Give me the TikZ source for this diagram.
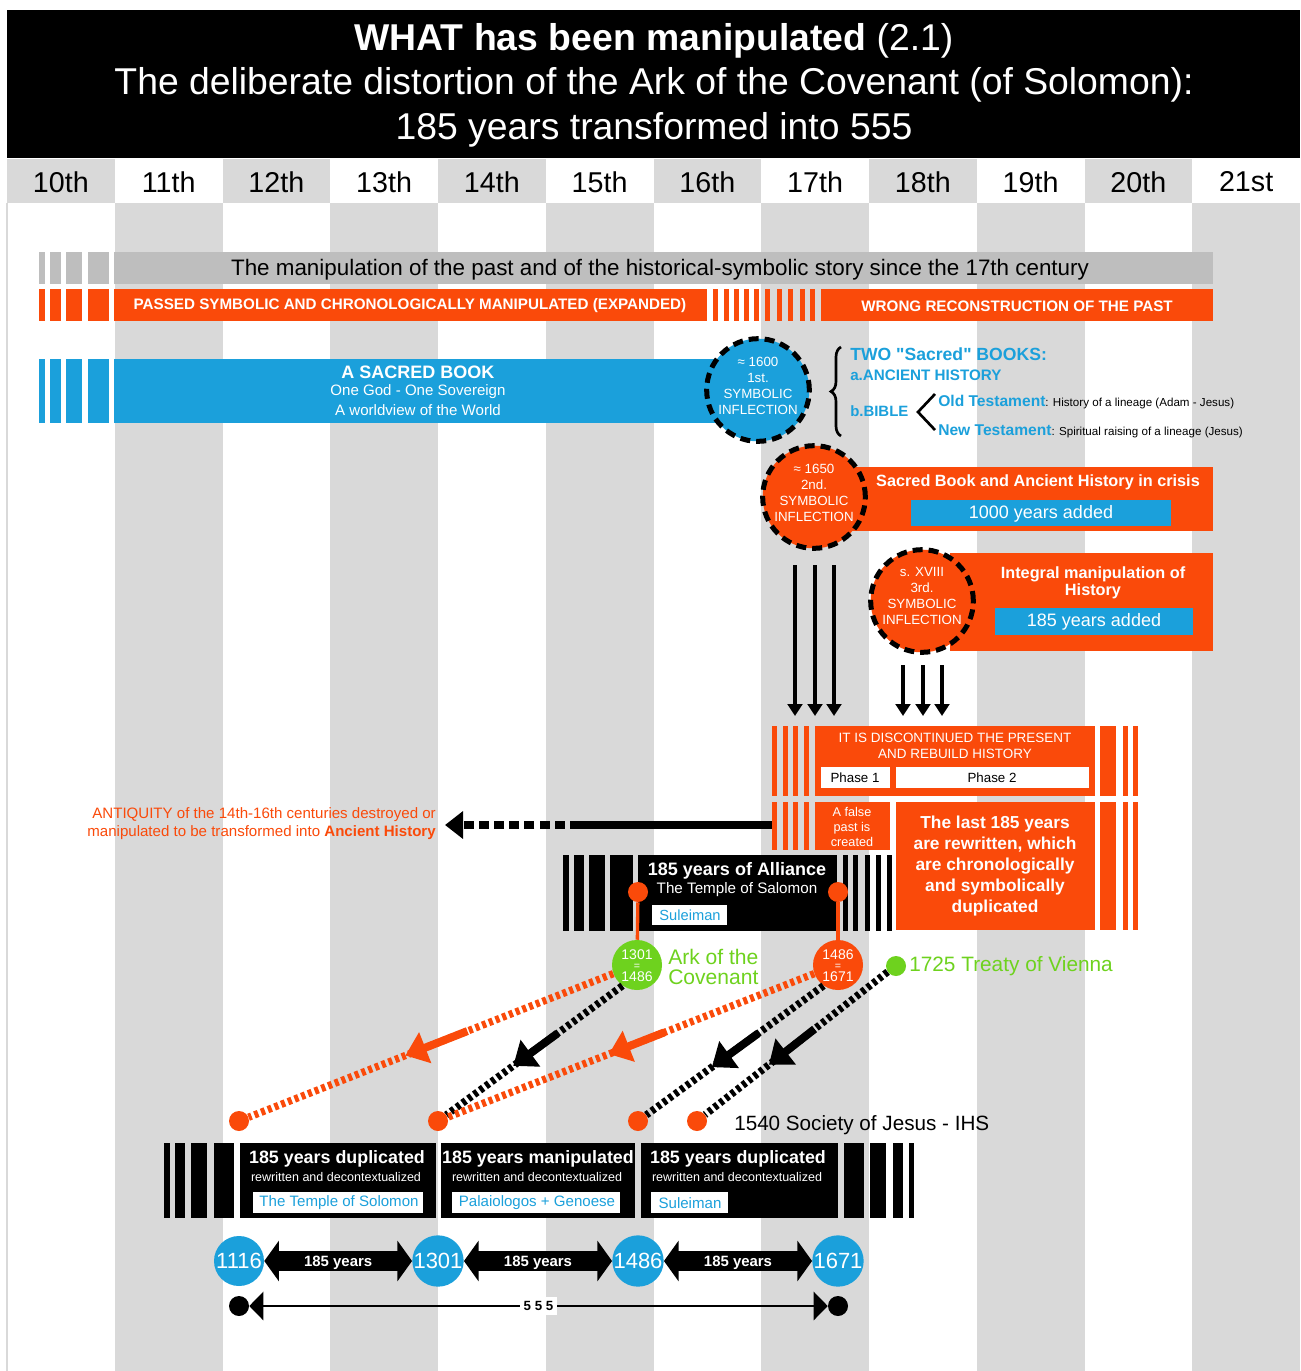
\documentclass[tikz,border=0pt]{standalone}
\usepackage{fontspec}
\setmainfont{Liberation Sans}[Ligatures=TeXOff]
\usetikzlibrary{arrows.meta,fit,decorations.pathreplacing}
\newcommand{\fsz}[2]{\fontsize{#1}{#2}\selectfont}
\definecolor{orng}{HTML}{FA4A0A}
\definecolor{blu}{HTML}{1BA0DB}
\definecolor{colgray}{HTML}{D9D9D9}
\definecolor{bargray}{HTML}{BEBEBE}
\definecolor{grn}{HTML}{6ED21E}
\begin{document}
\begin{tikzpicture}[x=0.75pt,y=-0.75pt,
  rbox/.style={inner sep=0pt, outer sep=0pt, fill=#1},
  inflect/.style={circle, fill=#1, draw=black, line width=3.75pt, dash pattern=on 7.5pt off 4.5pt, minimum size=77pt, inner sep=0pt},
  inftxt/.style={text=white, align=center, inner sep=0pt, font=\fsz{10pt}{12pt}},
  wt/.style={text=white, inner sep=0pt},
  downarr/.style={line width=3pt, -{Triangle[length=9pt,width=11pt]}},
  ddash/.style={line width=5.5pt, dash pattern=on 3pt off 2.4pt},
  midarr/.style={line width=6pt, -{Triangle[length=16pt,width=24pt]}},
  smalldot/.style={circle, fill=#1, minimum size=15pt, inner sep=0pt},
  yrcirc/.style={circle, fill=#1, minimum size=37.5pt, inner sep=0pt, text=white, align=center},
  dblarr/.style={line width=15pt, {Triangle[length=11pt,width=30pt]}-{Triangle[length=11pt,width=30pt]}},
]
\useasboundingbox (0,0) rectangle (1301,1371);
\fill[white] (0,0) rectangle (1301,1371);
% columns and header
\foreach \lab [count=\i from 0] in {10th,11th,12th,13th,14th,15th,16th,17th,18th,19th,20th,21st} {
  \pgfmathsetmacro\xa{7+\i*107.75}
  \pgfmathsetmacro\xb{\xa+107.75}
  \pgfmathsetmacro\xc{\xa+53.875}
  \ifodd\i
    \fill[colgray] (\xa,203) rectangle (\xb,1371);
  \else
    \fill[colgray] (\xa,159) rectangle (\xb,203);
  \fi
  \node[font=\fsz{21.5pt}{24pt}, inner sep=0pt] (h\i) at (\xc,182) {\lab};
}
\draw[colgray, line width=1pt] (7,203) -- (7,1371);
% title
\node[rbox=black, fit={(7,10) (1300,158)}] (title) {};
\node[text=white, align=center, inner sep=0pt, font=\fsz{28pt}{33.4pt}] (titletext) at (654,85) {\textbf{WHAT has been manipulated} (2.1)\\The deliberate distortion of the Ark of the Covenant (of Solomon):\\185 years transformed into 555};
% left stripes
\foreach \a/\b in {39/45,50/61,66/82,88/109} {
  \fill[bargray] (\a,252) rectangle (\b,284);
  \fill[orng] (\a,289) rectangle (\b,321);
  \fill[blu] (\a,359) rectangle (\b,423);
}
\node[rbox=bargray, fit={(114,252) (1213,284)}] (manip) {};
\node[inner sep=0pt, font=\fsz{16.8pt}{18pt}] (maniptxt) at (660,270) {The manipulation of the past and of the historical-symbolic story since the 17th century};
\node[rbox=orng, fit={(114,289) (707,321)}] (passed) {};
\node[wt, font=\bfseries\fsz{11.4pt}{13pt}] (passedtxt) at (410,306) {PASSED SYMBOLIC AND CHRONOLOGICALLY MANIPULATED (EXPANDED)};
\foreach \a in {713,724,734,744,754,765,777,788,800,810} \fill[orng] (\a,289) rectangle (\a+5,321);
\node[rbox=orng, fit={(821,289) (1213,321)}] (wrong) {};
\node[wt, font=\bfseries\fsz{11.4pt}{13pt}] (wrongtxt) at (1017,306) {WRONG RECONSTRUCTION OF THE PAST};
% sacred book
\node[rbox=blu, fit={(114,359) (725,423)}] (sacred) {};
\node[wt, font=\bfseries\fsz{13.5pt}{15pt}] (sb1) at (418,372) {A SACRED BOOK};
\node[wt, font=\fsz{11.3pt}{13pt}] (sb2) at (418,392) {One God - One Sovereign};
\node[wt, font=\fsz{11.3pt}{13pt}] (sb3) at (418,410) {A worldview of the World};
\node[inflect=blu] (inf1) at (758,390) {};
\node[inftxt] (inf1t) at (758,386) {≈ 1600\\1st.\\SYMBOLIC\\INFLECTION};
% two books
\draw[line width=2pt, decorate, decoration={brace, amplitude=7.5pt}] (841,436) -- (841,347);
\node[anchor=west, inner sep=0pt, text=blu, font=\bfseries\fsz{13.2pt}{15pt}] (two) at (850,354) {TWO "Sacred" BOOKS:};
\node[anchor=west, inner sep=0pt, text=blu, font=\bfseries\fsz{11.4pt}{13pt}] (anc) at (850,375) {a.ANCIENT HISTORY};
\node[anchor=west, inner sep=0pt, text=blu, font=\bfseries\fsz{11.2pt}{13pt}] (bible) at (850,411) {b.BIBLE};
\draw[line width=2pt] (935,394) -- (918,412) -- (935,430);
\node[anchor=west, inner sep=0pt] (ot) at (938,402) {{\color{blu}\bfseries\fsz{11.7pt}{13pt}Old Testament}{\fsz{8.7pt}{10pt}: History of a lineage (Adam - Jesus)}};
\node[anchor=west, inner sep=0pt] (nt) at (938,431) {{\color{blu}\bfseries\fsz{11.7pt}{13pt}New Testament}{\fsz{8.7pt}{10pt}: Spiritual raising of a lineage (Jesus)}};
% crisis
\node[rbox=orng, fit={(840,467) (1213,531)}] (crisis) {};
\node[wt, font=\bfseries\fsz{12.2pt}{13pt}] (crisistxt) at (1038,482) {Sacred Book and Ancient History in crisis};
\node[rbox=blu, fit={(911,500) (1171,526)}] (k1000) {};
\node[wt, font=\fsz{13.5pt}{15pt}] (k1000t) at (1041,514) {1000 years added};
\node[inflect=orng] (inf2) at (814,497) {};
\node[inftxt] (inf2t) at (814,493) {≈ 1650\\2nd.\\SYMBOLIC\\INFLECTION};
% integral
\node[rbox=orng, fit={(950,553) (1213,651)}] (integral) {};
\node[wt, align=center, font=\bfseries\fsz{12.2pt}{12.5pt}] (integraltxt) at (1093,583) {Integral manipulation of\\History};
\node[rbox=blu, fit={(995,608) (1193,635)}] (k185) {};
\node[wt, font=\fsz{13.5pt}{15pt}] (k185t) at (1094,622) {185 years added};
\node[inflect=orng] (inf3) at (922,601) {};
\node[inftxt] (inf3t) at (922,596) {s. XVIII\\3rd.\\SYMBOLIC\\INFLECTION};
% down arrows
\foreach \x [count=\k] in {795,815,834} {
  \coordinate (sa\k) at (\x,565);
  \coordinate (ea\k) at (\x,716);
  \draw[downarr] (sa\k) -- (ea\k);
}
\foreach \x [count=\k] in {903,923,942} {
  \coordinate (sb\k) at (\x,665);
  \coordinate (eb\k) at (\x,716);
  \draw[downarr] (sb\k) -- (eb\k);
}
% discontinued block
\foreach \a/\b in {772/777,783/788,793/798,804/809} {
  \fill[orng] (\a,726) rectangle (\b,796);
  \fill[orng] (\a,802) rectangle (\b,850);
}
\foreach \a/\b in {1100/1116,1123/1128,1133/1138} {
  \fill[orng] (\a,726) rectangle (\b,796);
  \fill[orng] (\a,802) rectangle (\b,930);
}
\node[rbox=orng, fit={(815,726) (1095,796)}] (disc) {};
\node[wt, align=center, font=\fsz{10.1pt}{12.5pt}] (disctxt) at (955,746) {IT IS DISCONTINUED THE PRESENT\\AND REBUILD HISTORY};
\node[rbox=white, fit={(821,767) (890,788)}] (ph1) {};
\node[inner sep=0pt, font=\fsz{10pt}{11pt}] (ph1t) at (855,778) {Phase 1};
\node[rbox=white, fit={(896,767) (1089,788)}] (ph2) {};
\node[inner sep=0pt, font=\fsz{10pt}{11pt}] (ph2t) at (992,778) {Phase 2};
\node[rbox=orng, fit={(815,802) (890,850)}] (false) {};
\node[wt, align=center, font=\fsz{9.5pt}{11.2pt}] (falset) at (852,827) {A false\\past is\\created};
\node[rbox=orng, fit={(896,802) (1095,930)}] (last) {};
\node[wt, align=center, font=\bfseries\fsz{13pt}{15.7pt}] (lastt) at (995,866) {The last 185 years\\are rewritten, which\\are chronologically\\and symbolically\\duplicated};
% antiquity arrow
\coordinate (ant0) at (772,825);
\coordinate (ant1) at (580,825);
\coordinate (ant2) at (445,825);
\draw[line width=6pt] (ant0) -- (ant1);
\draw[line width=6pt, dash pattern=on 7.5pt off 3.9pt, -{Triangle[length=13.5pt,width=20pt]}] (ant1) -- (ant2);
\node[anchor=east, align=right, inner sep=0pt, text=orng, font=\fsz{11.3pt}{13.5pt}] (antiq) at (436,824) {ANTIQUITY of the 14th-16th centuries destroyed or\\manipulated to be transformed into \textbf{Ancient History}};
% alliance block
\foreach \a/\b in {563/569,574/584,589/605,610/633,843/848,853/858,865/870,876/881,887/892} \fill[black] (\a,855) rectangle (\b,931);
\node[rbox=black, fit={(638,855) (837,931)}] (alliance) {};
\node[wt, font=\bfseries\fsz{13.5pt}{14pt}] (al1) at (737,871) {185 years of Alliance};
\node[wt, font=\fsz{11.4pt}{13pt}] (al2) at (737,890) {The Temple of Salomon};
\node[rbox=white, fit={(652,905) (727,925)}] (sul1) {};
\node[inner sep=0pt, text=blu, font=\fsz{11pt}{12pt}] (sul1t) at (690,915) {Suleiman};
\node[smalldot=orng] (dA) at (638,892) {};
\node[smalldot=orng] (dB) at (838,892) {};
% circles
\node[yrcirc=grn] (ark) at (637,965) {};
\node[yrcirc=orng] (ork) at (838,965) {};
\foreach \n/\x/\ya/\yb in {ark/637/1301/1486, ork/838/1486/1671} {
  \node[wt, font=\fsz{10.5pt}{11pt}] (\n a) at (\x,955) {\ya};
  \node[wt, font=\fsz{8pt}{9pt}] (\n b) at (\x,966.5) {=};
  \node[wt, font=\fsz{10.5pt}{11pt}] (\n c) at (\x,977) {\yb};
}
\draw[orng, line width=2.5pt] (dA) -- (ark);
\draw[orng, line width=2.5pt] (dB) -- (ork);
\node[anchor=west, inner sep=0pt, align=left, text=grn, font=\fsz{15.8pt}{15pt}] (arktxt) at (668,967) {Ark of the\\Covenant};
\node[smalldot=grn] (gdot) at (896,966) {};
\node[anchor=west, inner sep=0pt, text=grn, font=\fsz{15.6pt}{16pt}] (vienna) at (909,966) {1725 Treaty of Vienna};
% end dots
\node[smalldot=orng] (o1) at (239,1121) {};
\node[smalldot=orng] (o2) at (438,1121) {};
\node[smalldot=orng] (o3) at (638,1121) {};
\node[smalldot=orng] (o4) at (697,1121) {};
\node[anchor=west, inner sep=0pt, font=\fsz{15.5pt}{16pt}] (jesus) at (734,1125) {1540 Society of Jesus - IHS};
% diagonal dashed lines
\draw[ddash, orng] (ark.200) -- (o1);
\draw[ddash, black] (ark.235) -- (o2);
\draw[ddash, orng] (ork.200) -- (o2);
\draw[ddash, black] (ork.235) -- (o3);
\draw[ddash, black] (gdot.215) -- (o4);
\path (ark.200) -- (o1) coordinate[pos=0.40] (a1) coordinate[pos=0.57] (a2);
\path (ark.235) -- (o2) coordinate[pos=0.37] (b1) coordinate[pos=0.62] (b2);
\path (ork.200) -- (o2) coordinate[pos=0.41] (c1) coordinate[pos=0.56] (c2);
\path (ork.235) -- (o3) coordinate[pos=0.37] (d1) coordinate[pos=0.63] (d2);
\path (gdot.215) -- (o4) coordinate[pos=0.40] (e1) coordinate[pos=0.65] (e2);
\draw[midarr, orng] (a1) -- (a2);
\draw[midarr, black] (b1) -- (b2);
\draw[midarr, orng] (c1) -- (c2);
\draw[midarr, black] (d1) -- (d2);
\draw[midarr, black] (e1) -- (e2);
% bottom blocks
\foreach \a/\b in {164/170,175/185,191/207,214/234,844/864,870/886,893/903,909/914} \fill[black] (\a,1143) rectangle (\b,1218);
\node[rbox=black, fit={(240,1143) (436,1218)}] (bl1) {};
\node[rbox=black, fit={(441,1143) (635,1218)}] (bl2) {};
\node[rbox=black, fit={(641,1143) (838,1218)}] (bl3) {};
\node[wt, font=\bfseries\fsz{13.4pt}{14pt}] (bt1) at (337,1159) {185 years duplicated};
\node[wt, font=\bfseries\fsz{13.4pt}{14pt}] (bt2) at (538,1159) {185 years manipulated};
\node[wt, font=\bfseries\fsz{13.4pt}{14pt}] (bt3) at (738,1159) {185 years duplicated};
\node[wt, font=\fsz{9.4pt}{10pt}] (bs1) at (336,1177) {rewritten and decontextualized};
\node[wt, font=\fsz{9.4pt}{10pt}] (bs2) at (537,1177) {rewritten and decontextualized};
\node[wt, font=\fsz{9.4pt}{10pt}] (bs3) at (737,1177) {rewritten and decontextualized};
\node[rbox=white, fit={(253,1192) (423,1213)}] (w1) {};
\node[rbox=white, fit={(452,1192) (620,1213)}] (w2) {};
\node[rbox=white, fit={(651,1192) (728,1213)}] (w3) {};
\node[inner sep=0pt, text=blu, font=\fsz{11.3pt}{13pt}] (w1t) at (339,1203) {The Temple of Solomon};
\node[inner sep=0pt, text=blu, font=\fsz{11.3pt}{13pt}] (w2t) at (537,1203) {Palaiologos + Genoese};
\node[inner sep=0pt, text=blu, font=\fsz{11.3pt}{13pt}] (w3t) at (690,1203) {Suleiman};
% timeline
\node[yrcirc=blu, font=\fsz{16.5pt}{18pt}] (t1) at (239,1261) {1116};
\node[yrcirc=blu, font=\fsz{16.5pt}{18pt}] (t2) at (438,1261) {1301};
\node[yrcirc=blu, font=\fsz{16.5pt}{18pt}] (t3) at (638,1261) {1486};
\node[yrcirc=blu, font=\fsz{16.5pt}{18pt}] (t4) at (838,1261) {1671};
\draw[dblarr] (t1) -- (t2) node[midway, yshift=-1pt, text=white, font=\bfseries\fsz{11.2pt}{12pt}] (y1) {185 years};
\draw[dblarr] (t2) -- (t3) node[midway, yshift=-1pt, text=white, font=\bfseries\fsz{11.2pt}{12pt}] (y2) {185 years};
\draw[dblarr] (t3) -- (t4) node[midway, yshift=-1pt, text=white, font=\bfseries\fsz{11.2pt}{12pt}] (y3) {185 years};
\node[smalldot=black] (q1) at (239,1306) {};
\node[smalldot=black] (q2) at (838,1306) {};
\draw[line width=2pt, {Triangle[length=10.5pt,width=21pt]}-{Triangle[length=10.5pt,width=21pt]}] (q1) -- (q2) node[midway, fill=white, inner sep=3pt, font=\bfseries\fsz{10pt}{12pt}] (n555) {5 5 5};
\end{tikzpicture}
\end{document}
